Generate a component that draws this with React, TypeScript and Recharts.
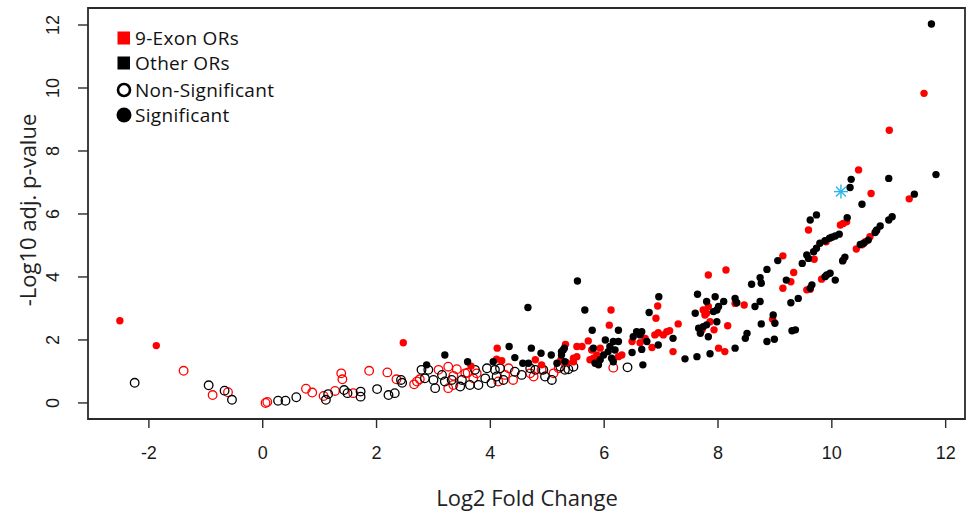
import React from 'react';
import { ScatterChart, Scatter, XAxis, YAxis, ReferenceArea } from 'recharts';

// log2 fold change, -log10 adj. p-value
const nineExonNonSig: [number, number][] = [
  [-1.39, 1.02], [-0.88, 0.25], [-0.61, 0.34], [0.05, 0.0], [0.08, 0.03], [0.76, 0.45], [0.87, 0.33],
  [1.07, 0.22], [1.27, 0.38], [1.38, 0.94], [1.4, 0.75], [1.59, 0.31], [1.87, 1.02], [2.19, 0.97],
  [2.35, 0.75], [2.66, 0.59], [2.71, 0.68], [2.76, 0.75], [3.09, 1.05], [3.26, 1.15], [3.41, 1.07],
  [3.35, 0.86], [3.26, 0.47], [3.35, 0.57], [3.56, 0.94], [3.7, 0.78], [3.76, 0.94], [3.6, 0.96],
  [4.14, 0.68], [4.26, 0.89], [4.32, 1.1], [4.4, 0.73], [4.7, 0.94], [4.76, 0.84], [4.9, 1.05],
  [5.11, 0.94], [5.2, 1.1], [6.16, 1.12],
];

const otherNonSig: [number, number][] = [
  [-2.25, 0.64], [-0.95, 0.56], [-0.67, 0.39], [-0.54, 0.1], [0.27, 0.07], [0.4, 0.07], [0.59, 0.18],
  [1.11, 0.1], [1.15, 0.28], [1.43, 0.41], [1.49, 0.31], [1.72, 0.36], [1.72, 0.2], [2.01, 0.44],
  [2.21, 0.25], [2.32, 0.31], [2.43, 0.73], [2.45, 0.64], [2.79, 1.05], [2.91, 1.05], [2.85, 0.78],
  [3.03, 0.47], [3.0, 0.73], [3.15, 0.89], [3.2, 0.68], [3.32, 0.73], [3.47, 0.52], [3.5, 0.73],
  [3.64, 0.57], [3.73, 1.05], [3.79, 0.57], [3.91, 0.78], [3.94, 1.1], [4.02, 0.63], [4.08, 1.05],
  [4.11, 0.84], [4.17, 1.1], [4.23, 0.73], [4.43, 0.99], [4.55, 0.89], [4.7, 1.1], [4.79, 1.05],
  [4.93, 1.05], [4.96, 0.84], [5.08, 0.73], [5.23, 1.15], [5.31, 1.05], [5.37, 1.07], [5.46, 1.15],
  [6.41, 1.13],
];

const nineExonSig: [number, number][] = [
  [-2.51, 2.61], [-1.87, 1.82], [2.47, 1.91], [3.66, 1.17], [4.11, 1.39], [4.12, 1.74], [4.2, 1.34],
  [4.79, 1.37], [4.9, 1.21], [5.24, 1.37], [5.34, 1.28], [5.32, 1.86], [5.46, 1.31], [5.46, 1.42],
  [5.52, 1.79], [5.52, 1.47], [5.61, 1.79], [5.72, 1.97], [5.75, 1.37], [5.78, 1.68], [5.81, 1.42],
  [5.87, 1.52], [5.93, 1.74], [6.09, 2.47], [6.12, 2.95], [6.25, 1.47], [6.31, 1.52], [6.49, 1.95],
  [6.63, 1.91], [6.72, 2.05], [6.84, 1.76], [6.89, 2.16], [6.91, 2.69], [6.94, 3.08], [6.95, 2.23],
  [7.04, 2.16], [7.1, 2.26], [7.15, 2.29], [7.21, 1.63], [7.3, 2.51], [7.72, 2.32], [7.74, 2.95],
  [7.77, 2.79], [7.8, 2.85], [7.83, 4.06], [7.83, 3.06], [7.86, 2.58], [7.93, 2.32], [8.01, 1.74],
  [8.12, 1.63], [8.14, 4.22], [8.17, 2.45], [8.3, 3.16], [8.46, 3.11], [8.96, 2.66], [9.14, 3.64],
  [9.14, 4.67], [9.28, 3.85], [9.33, 4.14], [9.56, 3.59], [9.62, 3.61], [9.59, 5.49], [9.69, 4.56],
  [9.82, 3.93], [9.9, 5.12], [10.15, 5.65], [10.2, 5.7], [10.26, 5.75], [10.2, 4.54], [10.43, 4.89],
  [10.53, 5.02], [10.59, 5.12], [10.67, 5.28], [10.78, 5.46], [10.47, 7.4], [10.69, 6.65],
  [11.01, 8.66], [11.36, 6.48], [11.62, 9.83],
];

const otherSig: [number, number][] = [
  [2.88, 1.21], [3.2, 1.52], [3.6, 1.31], [4.05, 1.31], [4.33, 1.79], [4.43, 1.44], [4.57, 1.26],
  [4.66, 3.03], [4.67, 1.26], [4.72, 1.74], [4.89, 1.58], [5.07, 1.52], [5.17, 1.26], [5.25, 1.63],
  [5.25, 1.52], [5.28, 1.68], [5.3, 1.74], [5.31, 1.31], [5.53, 3.87], [5.66, 2.95], [5.79, 2.31],
  [5.81, 1.74], [5.84, 1.26], [5.9, 1.21], [5.93, 1.37], [5.99, 1.52], [6.02, 2.0], [6.07, 1.63],
  [6.1, 1.79], [6.13, 1.42], [6.16, 1.95], [6.16, 1.31], [6.19, 1.68], [6.25, 1.95], [6.25, 2.31],
  [6.49, 1.6], [6.51, 2.1], [6.57, 2.26], [6.63, 2.16], [6.66, 2.26], [6.66, 1.7], [6.68, 1.21],
  [6.75, 1.95], [6.79, 2.87], [6.95, 1.84], [6.96, 3.37], [7.21, 2.05], [7.42, 1.4], [7.6, 2.85],
  [7.63, 1.47], [7.64, 3.45], [7.66, 2.37], [7.69, 2.21], [7.74, 2.42], [7.8, 2.48], [7.8, 3.22],
  [7.83, 2.1], [7.86, 1.56], [7.92, 2.9], [7.95, 3.37], [7.98, 2.95], [7.98, 2.58], [8.01, 3.06],
  [8.1, 3.22], [8.3, 3.32], [8.33, 3.18], [8.3, 1.74], [8.48, 2.05], [8.51, 2.21], [8.59, 3.77],
  [8.65, 3.06], [8.74, 3.22], [8.74, 3.98], [8.76, 3.8], [8.76, 2.51], [8.86, 4.24], [8.86, 1.95],
  [8.97, 2.79], [8.99, 2.02], [9.0, 2.53], [9.05, 4.52], [9.2, 3.9], [9.28, 3.18], [9.3, 2.29],
  [9.36, 2.32], [9.41, 3.32], [9.48, 4.43], [9.56, 4.7], [9.59, 4.59], [9.62, 3.64], [9.65, 3.75],
  [9.68, 4.8], [9.73, 4.91], [9.79, 5.07], [9.88, 4.01], [9.91, 4.06], [9.97, 4.12], [10.06, 3.9],
  [9.62, 5.81], [9.73, 5.97], [9.88, 5.15], [9.96, 5.23], [10.0, 5.26], [10.06, 5.3], [10.13, 5.36],
  [10.27, 5.88], [10.19, 4.51], [10.23, 4.63], [10.5, 5.03], [10.56, 5.07], [10.64, 5.17],
  [10.76, 5.41], [10.79, 5.49], [10.85, 5.62], [11.0, 5.81], [11.06, 5.91], [10.32, 6.84],
  [10.34, 7.1], [10.53, 6.31], [11.0, 7.13], [11.45, 6.63], [11.75, 12.03], [11.83, 7.25],
];

const highlighted: [number, number][] = [[10.16, 6.71]];

const xTicks = [-2, 0, 2, 4, 6, 8, 10, 12];
const yTicks = [0, 2, 4, 6, 8, 10, 12];
const legendLabels = ['9-Exon ORs', 'Other ORs', 'Non-Significant', 'Significant'];

const toPts = (arr: [number, number][]) => arr.map(([x, y]) => ({ x, y }));

const RED = '#ff0000';
const BLACK = '#000000';
const BLUE = '#29b6ea';
const AXIS = '#2a2a2a';
const tickFont = '"Liberation Sans", Arial, sans-serif';
const titleFont = '"Open Sans", "DejaVu Sans", sans-serif';

const openDot = (color: string) => (p: any) => (
  <circle cx={p.cx} cy={p.cy} r={4.3} fill="none" stroke={color} strokeWidth={1.3} />
);
const filledDot = (color: string) => (p: any) => (
  <circle cx={p.cx} cy={p.cy} r={3.7} fill={color} />
);
const asterisk = (p: any) => {
  const r = 7;
  const d = r * 0.707;
  return (
    <g stroke={BLUE} strokeWidth={1.4}>
      <line x1={p.cx - r} y1={p.cy} x2={p.cx + r} y2={p.cy} />
      <line x1={p.cx} y1={p.cy - r} x2={p.cx} y2={p.cy + r} />
      <line x1={p.cx - d} y1={p.cy - d} x2={p.cx + d} y2={p.cy + d} />
      <line x1={p.cx - d} y1={p.cy + d} x2={p.cx + d} y2={p.cy - d} />
    </g>
  );
};

const XTick = ({ x, y, payload }: any) => (
  <text x={x} y={y + 23} textAnchor="middle" dominantBaseline="central" fontSize={18} fill="#1a1a1a" fontFamily={tickFont}>
    {payload.value}
  </text>
);

const YTick = ({ x, y, payload }: any) => {
  const tx = x - 23;
  return (
    <text x={tx} y={y} transform={`rotate(-90 ${tx} ${y})`} textAnchor="middle" dominantBaseline="central" fontSize={18} fill="#1a1a1a" fontFamily={tickFont}>
      {payload.value}
    </text>
  );
};

const legendRows = [
  { cy: 38, marker: 'square', color: RED },
  { cy: 62.5, marker: 'square', color: BLACK },
  { cy: 90, marker: 'open', color: BLACK },
  { cy: 114.5, marker: 'filled', color: BLACK },
];

const LegendMarker = ({ marker, color }: { marker: string; color: string }) => (
  <svg width={20} height={20} style={{ display: 'block' }}>
    {marker === 'square' && <rect x={3.5} y={3.5} width={12.5} height={13} fill={color} />}
    {marker === 'open' && <circle cx={10} cy={10} r={6} fill="none" stroke={color} strokeWidth={2.6} />}
    {marker === 'filled' && <circle cx={10} cy={10} r={7.5} fill={color} />}
  </svg>
);

export default function App() {
  return (
    <div style={{ position: 'absolute', left: 0, top: 0, width: 972, height: 512, background: '#fff' }}>
      <ScatterChart width={972} height={512} margin={{ top: 8, right: 7, left: 0, bottom: 8 }}>
        <XAxis
          type="number"
          dataKey="x"
          domain={[-3.07, 12.34]}
          ticks={xTicks}
          allowDataOverflow
          height={85}
          axisLine={false}
          tickSize={9}
          tickLine={{ stroke: AXIS, strokeWidth: 1.4 }}
          tick={<XTick />}
        />
        <YAxis
          type="number"
          dataKey="y"
          domain={[-0.51, 12.54]}
          ticks={yTicks}
          allowDataOverflow
          width={88}
          axisLine={false}
          tickSize={10}
          tickLine={{ stroke: AXIS, strokeWidth: 1.4 }}
          tick={<YTick />}
        />
        <Scatter data={toPts(nineExonNonSig)} shape={openDot(RED)} isAnimationActive={false} />
        <Scatter data={toPts(otherNonSig)} shape={openDot(BLACK)} isAnimationActive={false} />
        <Scatter data={toPts(nineExonSig)} shape={filledDot(RED)} isAnimationActive={false} />
        <Scatter data={toPts(otherSig)} shape={filledDot(BLACK)} isAnimationActive={false} />
        <Scatter data={toPts(highlighted)} shape={asterisk} isAnimationActive={false} />
        <ReferenceArea x1={-3.07} x2={12.34} y1={-0.51} y2={12.54} fill="none" stroke={AXIS} strokeWidth={1.8} ifOverflow="visible" />
      </ScatterChart>

      {legendRows.map((r, i) => (
        <div
          key={legendLabels[i]}
          style={{ position: 'absolute', left: 114, top: r.cy - 10, height: 20, display: 'flex', alignItems: 'center', fontFamily: titleFont, fontSize: 19, letterSpacing: 0.3, color: '#111', whiteSpace: 'nowrap' }}
        >
          <LegendMarker marker={r.marker} color={r.color} />
          <span style={{ display: 'block', marginLeft: 1, height: 20, lineHeight: '20px', overflow: 'visible' }}>{legendLabels[i]}</span>
        </div>
      ))}

      <div style={{ position: 'absolute', left: 327, top: 485, width: 400, height: 24, lineHeight: '24px', textAlign: 'center', fontFamily: titleFont, fontSize: 22, color: '#222' }}>
        Log2 Fold Change
      </div>
      <div style={{ position: 'absolute', left: -123, top: 198, width: 300, height: 24, lineHeight: '24px', textAlign: 'center', fontFamily: titleFont, fontSize: 22, color: '#222', transform: 'rotate(-90deg)' }}>
        -Log10 adj. p-value
      </div>
    </div>
  );
}
